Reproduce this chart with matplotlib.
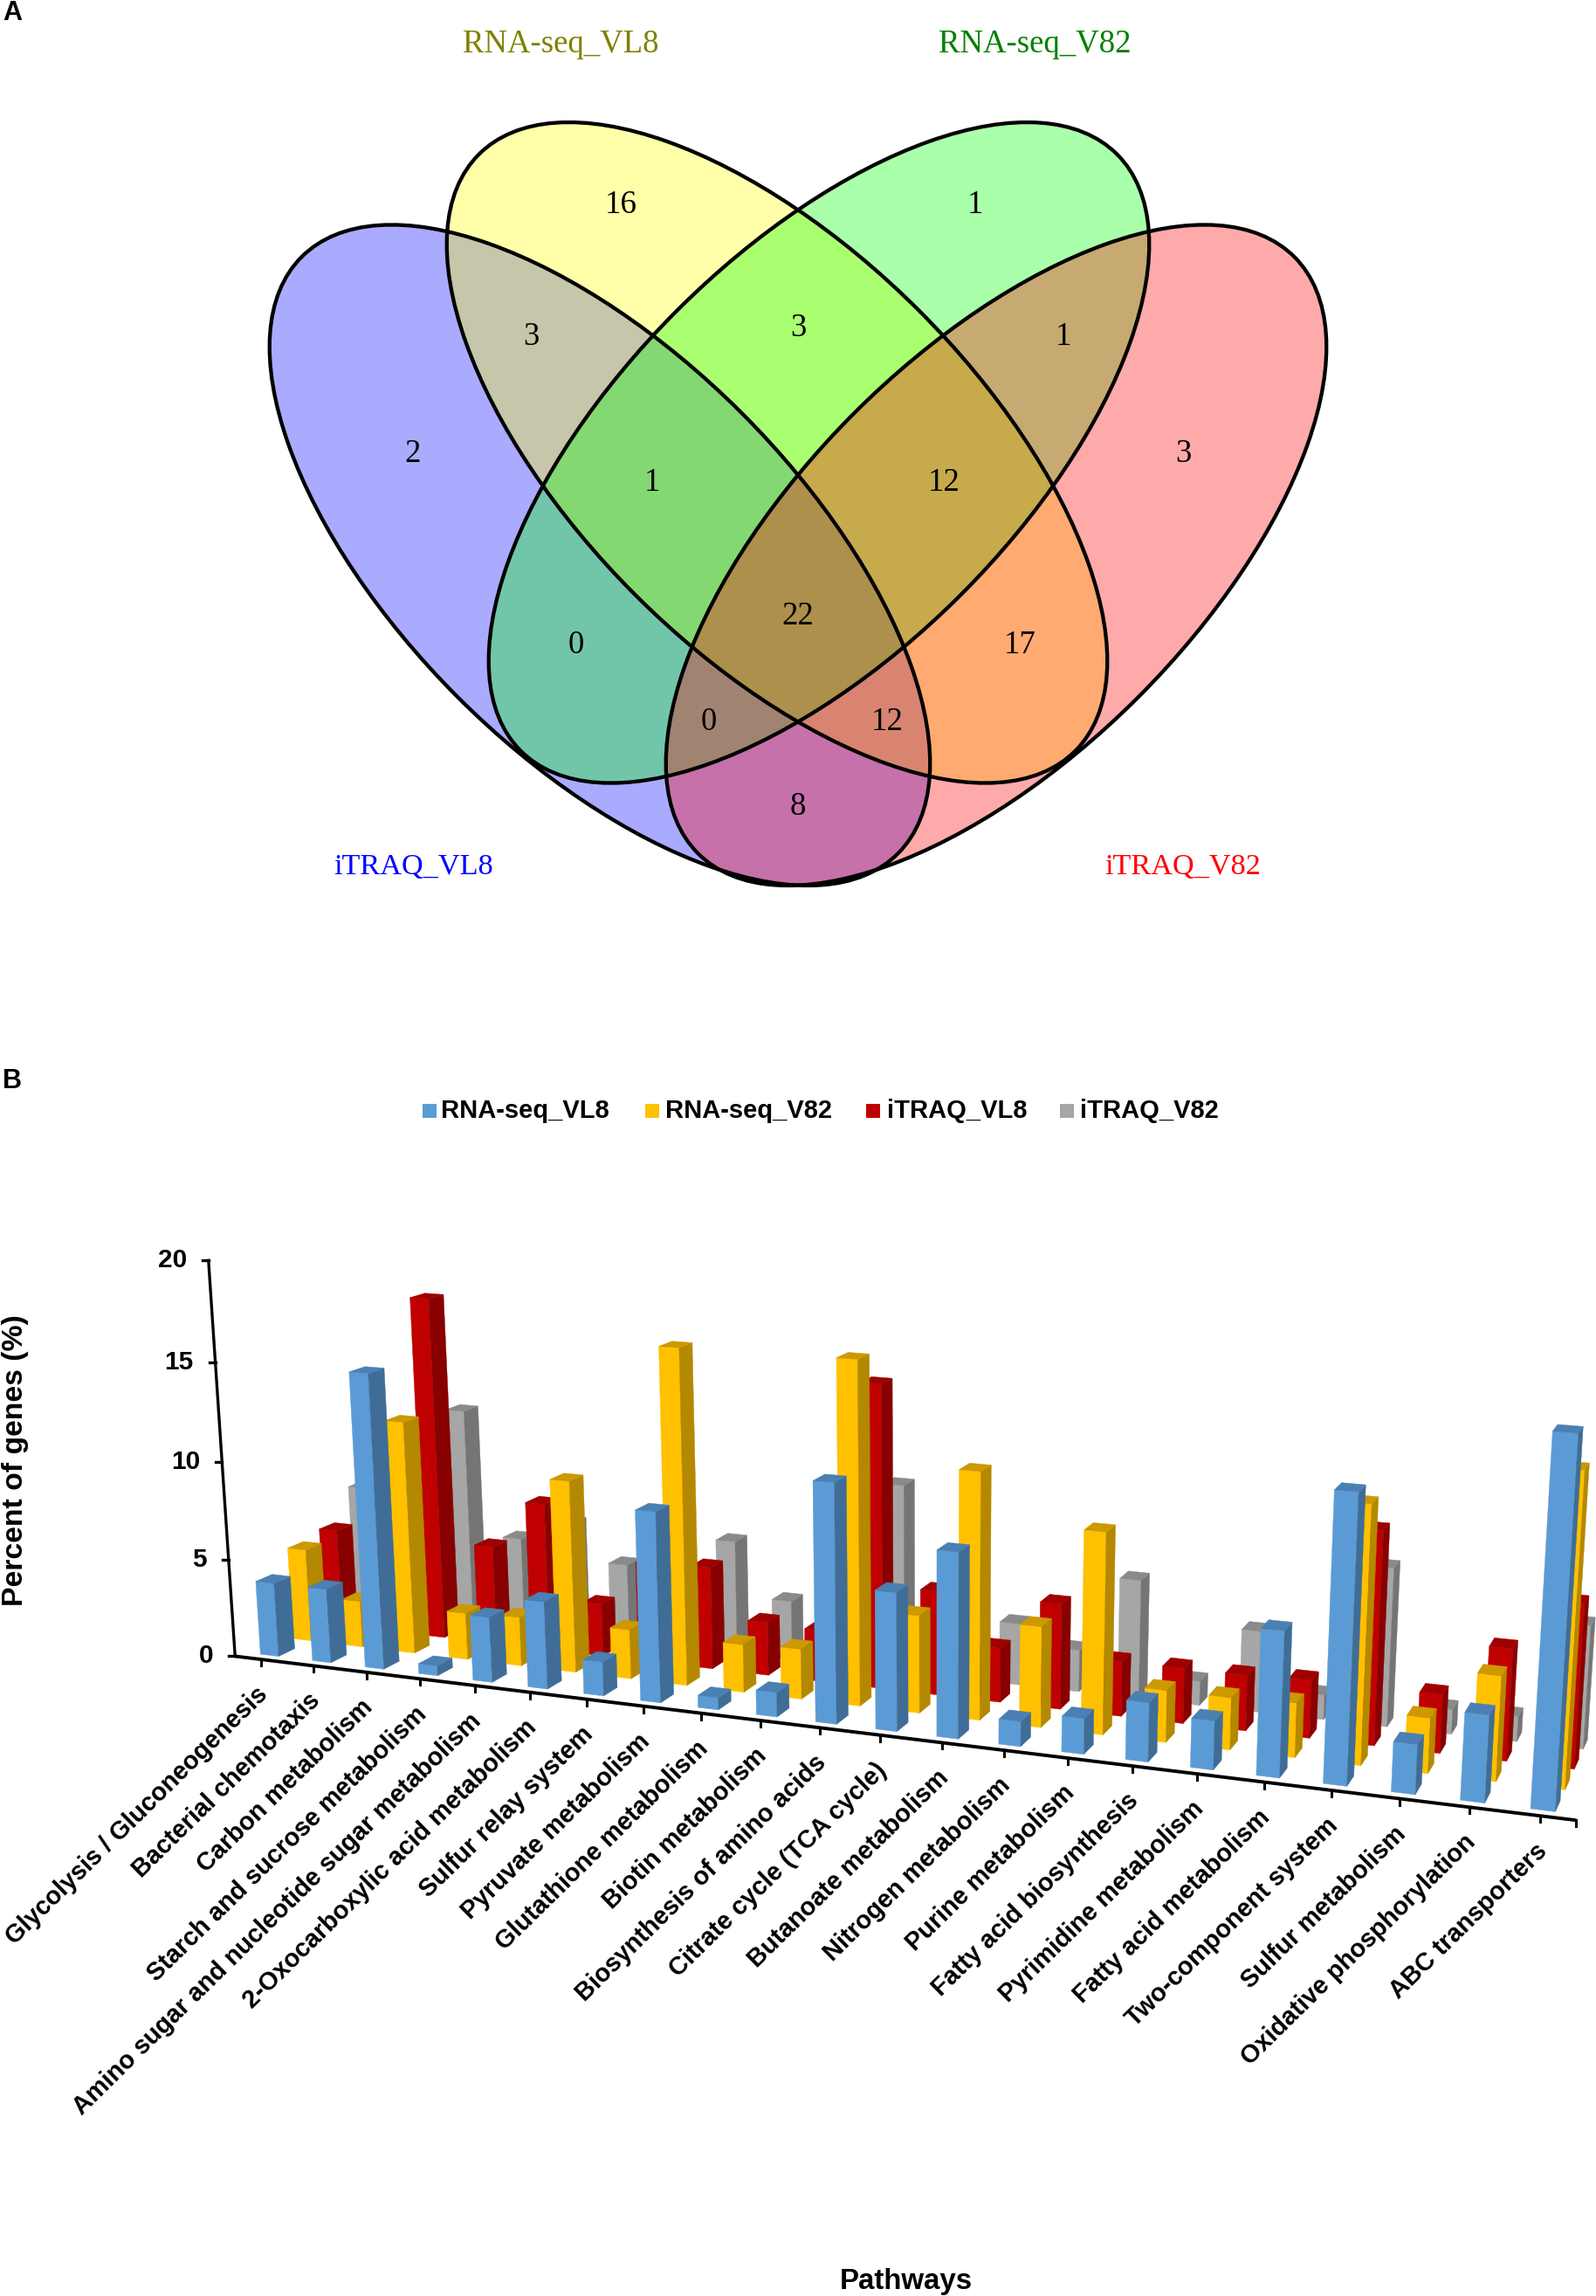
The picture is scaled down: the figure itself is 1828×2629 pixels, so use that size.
import numpy as np
import matplotlib
matplotlib.use("Agg")
import matplotlib.pyplot as plt
from matplotlib.patches import Ellipse, Polygon, Rectangle

categories = ["Glycolysis / Gluconeogenesis","Bacterial chemotaxis","Carbon metabolism","Starch and sucrose metabolism",
"Amino sugar and nucleotide sugar metabolism","2-Oxocarboxylic acid metabolism","Sulfur relay system","Pyruvate metabolism",
"Glutathione metabolism","Biotin metabolism","Biosynthesis of amino acids","Citrate cycle (TCA cycle)","Butanoate metabolism",
"Nitrogen metabolism","Purine metabolism","Fatty acid biosynthesis","Pyrimidine metabolism","Fatty acid metabolism",
"Two-component system","Sulfur metabolism","Oxidative phosphorylation","ABC transporters"]
series = ["RNA-seq_VL8","RNA-seq_V82","iTRAQ_VL8","iTRAQ_V82"]

rna_vl8  = [3.8,3.8,14.9,0.5,3.3,4.4,1.7,9.4,0.6,1.2,11.6,6.7,8.9,1.2,1.7,2.8,2.3,6.8,13.3,2.3,4.0,16.6]
rna_v82  = [4.8,2.4,11.9,2.4,2.5,9.7,2.5,16.7,2.4,2.5,16.8,4.8,12.0,4.9,9.7,2.5,2.5,2.6,12.1,2.6,4.9,14.4]
itraq_vl8= [5.1,3.0,17.6,5.1,7.6,2.7,5.1,5.2,2.7,2.6,15.1,5.2,2.7,5.2,2.7,2.7,2.7,2.8,10.2,2.8,5.3,7.7]
itraq_v82= [6.7,4.4,11.3,4.8,5.9,4.0,3.8,5.8,3.0,2.6,9.5,3.4,3.1,2.1,5.9,1.2,4.0,1.2,7.7,1.2,1.2,5.9]
value_table = np.array([rna_vl8,rna_v82,itraq_vl8,itraq_v82]).T
y_ticks = [0,5,10,15,20]

venn_counts=["16","1","3","3","1","2","1","12","3","0","22","17","0","12","8"]

FIG_W, FIG_H = 1828, 2629
fig = plt.figure(figsize=(FIG_W/100, FIG_H/100), dpi=100)
ax = fig.add_axes([0,0,1,1])
ax.set_xlim(0,FIG_W); ax.set_ylim(FIG_H,0); ax.axis("off")
SANS="Liberation Sans"; SERIF="Liberation Serif"

# ---- Camera of the 3-D chart: fitted from its axis frame
tick_x = [299.5,360,420,482,544,608,671,737,804,871,938,1008,1078,1150,1223,1297,1371,1447,1525,1603,1683,1765]
world, image = [], []
for i,x in enumerate(tick_x):
    world.append((i+.5,0,0)); image.append((x,1897+0.1213*(x-268.4)))
world.append((0,0,0)); image.append((268.4,1897))
world.append((22,0,0)); image.append((1806.7,2083.6))
for z,(x,y) in zip([5,10,15,20],[(261,1786.2),(254,1674.6),(245.9,1559.8),(239.8,1442.4)]):
    world.append((0,0,z)); image.append((x,y))
world += [(0,4,0),(22,4,0),(22,0,20)]
image += [(414,1826),(1845,1992),(1838.6,1555)]
W = np.array(world,float)/10; I = np.array(image,float)/1000
rows=[]
for (a,b,c),(u,v) in zip(W,I):
    rows.append([a,b,c,1,0,0,0,0,-u*a,-u*b,-u*c,-u])
    rows.append([0,0,0,0,a,b,c,1,-v*a,-v*b,-v*c,-v])
Pm = np.linalg.svd(np.array(rows))[2][-1].reshape(3,4)
def proj(X,Y,Z):
    q = Pm @ np.array([X/10,Y/10,Z/10,1.0])
    return q[0]/q[2]*1000, q[1]/q[2]*1000

HW, HD = .175, .245
colors = [("#5B9BD5","#3F6D97","#4A80B3"),("#FFC000","#B48800","#CC9900"),("#C00000","#880000","#A00000"),("#A6A6A6","#757575","#8A8A8A")]
def face(pts,col,z):
    ax.add_patch(Polygon(pts,closed=True,fc=col,ec=col,lw=.3,zorder=z))
z=3
for j in range(3,-1,-1):
    for i in range(22):
        v=value_table[i,j]
        x0,x1=i+.5-HW,i+.5+HW; y0,y1=j+.5-HD,j+.5+HD
        f,s,t=colors[j]
        face([proj(x0,y0,0),proj(x1,y0,0),proj(x1,y0,v),proj(x0,y0,v)],f,z)
        face([proj(x1,y0,0),proj(x1,y1,0),proj(x1,y1,v),proj(x1,y0,v)],s,z)
        face([proj(x0,y0,v),proj(x1,y0,v),proj(x1,y1,v),proj(x0,y1,v)],t,z)
        z+=.001

# axes lines
o=proj(0,0,0); top=proj(0,0,20); e=proj(22,0,0)
ax.plot([o[0],top[0]],[o[1],top[1]],color="k",lw=2.4,zorder=10,solid_capstyle="projecting")
ax.plot([o[0],e[0]],[o[1],e[1]],color="k",lw=2.8,zorder=10,solid_capstyle="butt")
for v in y_ticks:
    p=proj(0,0,v)
    ax.plot([p[0]-7,p[0]],[p[1],p[1]],color="k",lw=2.4,zorder=10)
    ax.text(p[0]-25,p[1],str(v),ha="right",va="center",fontsize=21.5,fontweight="bold",family=SANS)
for i in range(22):
    p=proj(i+.5,0,0)
    ax.plot([p[0],p[0]],[p[1],p[1]+7],color="k",lw=2.2,zorder=10)
    ax.text(p[0]+3,p[1]+36,categories[i],rotation=44.5,rotation_mode="anchor",ha="right",va="center",fontsize=20.8,fontweight="bold",family=SANS)
ax.plot([e[0],e[0]],[e[1],e[1]+7],color="k",lw=2.2,zorder=10)
ax.text(18,1672,"Percent of genes (%)",rotation=90,ha="center",va="center",fontsize=24.3,fontweight="bold",family=SANS)
ax.text(1038,2612,"Pathways",ha="center",va="center",fontsize=23.8,fontweight="bold",family=SANS)

# legend
for name,(f,_,_),mx,tx in zip(series,colors,[484,739,992,1214],[505,762,1016,1237]):
    ax.add_patch(Rectangle((mx,1264),16,16,fc=f,ec="none"))
    ax.text(tx,1272,name,ha="left",va="center",fontsize=21,fontweight="bold",family=SANS)
ax.text(3,15,"A",ha="left",va="center",fontsize=22,fontweight="bold",family=SANS)
ax.text(3,1238,"B",ha="left",va="center",fontsize=22,fontweight="bold",family=SANS)

# Venn
set_centers=[(687,635.7,45,"#0000FF"),(890,518.3,45,"#FFFF00"),(938,518.3,-45,"#00FF00"),(1141,635.7,-45,"#FF0000")]
for cx,cy,ang,c in set_centers:
    ax.add_patch(Ellipse((cx,cy),2*483,2*230,angle=ang,fc=c,alpha=1/3,ec="none",zorder=1))
for cx,cy,ang,c in set_centers:
    ax.add_patch(Ellipse((cx,cy),2*483,2*230,angle=ang,fc="none",ec="k",lw=3.1,zorder=2))
for (t,x,y,c,fs) in [("RNA-seq_VL8",642,51,"#808000",26.5),("RNA-seq_V82",1185,51,"#008000",26.5),("iTRAQ_VL8",474,993,"#0000FF",24.7),("iTRAQ_V82",1355,993,"#FF0000",24.7)]:
    ax.text(x,y,t,color=c,ha="center",va="center",fontsize=fs,family=SERIF)
venn_pos=[(711,235),(1117,235),(608,386),(914,376),(1218,386),(473,520),(747,553),(1081,553),(1355,520),(660,739),(914,706),(1168.5,739),(812,827),(1016,827),(914,924)]
for t,(x,y) in zip(venn_counts,venn_pos):
    ax.text(x,y,t,ha="center",va="center",fontsize=26.5,family=SERIF,zorder=5)

fig.savefig("out.png",dpi=100)
